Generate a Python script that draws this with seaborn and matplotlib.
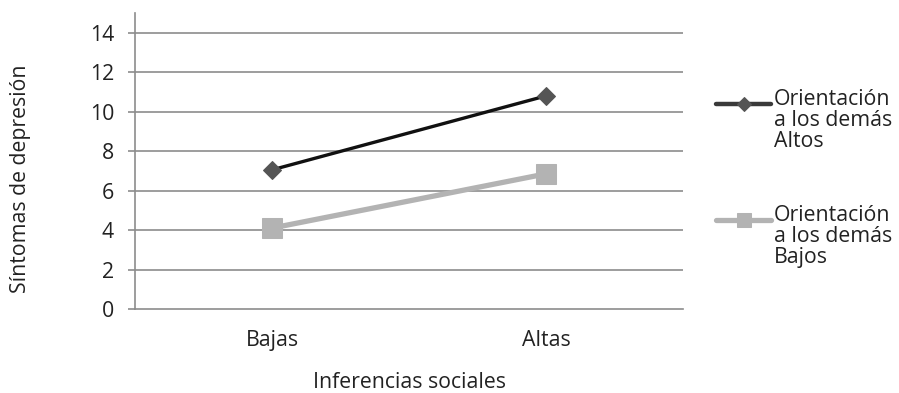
import pandas as pd
import seaborn as sns
import matplotlib.pyplot as plt

categorias = ["Bajas", "Altas"]
altos = [7.05, 10.8]
bajos = [4.1, 6.85]
series = ["Orientación\na los demás\nAltos", "Orientación\na los demás\nBajos"]

df = pd.DataFrame({
    "x": categorias * 2,
    "y": altos + bajos,
    "serie": [series[0]] * 2 + [series[1]] * 2,
})

sns.set_style("white")
plt.rcParams["font.family"] = ["Open Sans", "DejaVu Sans"]
txt = "#222222"
grid = "#8c8c8c"
fs = 15.3

fig = plt.figure(figsize=(8.99, 3.93), dpi=100)
ax = fig.add_axes([0.150, 0.2137, 0.610, 0.7533])

ax.set_ylim(0, 15)
ax.set_yticks(range(0, 15, 2))
for v in range(2, 15, 2):
    ax.axhline(v, color=grid, lw=1.2, zorder=0)

sns.lineplot(data=df, x="x", y="y", hue="serie", style="serie",
             palette=["#111111", "#b3b3b3"], markers=["D", "s"], dashes=False,
             ax=ax, legend=False, zorder=3)
lines = ax.get_lines()[-2:]
lines[0].set_linewidth(2.4)
lines[0].set_markersize(9.5)
lines[0].set_markerfacecolor("#555555")
lines[0].set_markeredgecolor("#555555")
lines[1].set_linewidth(3.8)
lines[1].set_markersize(14)
lines[1].set_markerfacecolor("#b3b3b3")
lines[1].set_markeredgecolor("#b3b3b3")

ax.set_xlim(-0.5, 1.5)
for s in ["top", "right"]:
    ax.spines[s].set_visible(False)
for s in ["left", "bottom"]:
    ax.spines[s].set_color(grid)
    ax.spines[s].set_linewidth(1.2)

ax.tick_params(axis="y", length=5, width=1.2, color=grid, pad=10, labelsize=fs, labelcolor=txt, left=True)
ax.tick_params(axis="x", length=0, pad=15, labelsize=fs, labelcolor=txt)

ax.set_ylabel("Síntomas de depresión", fontsize=fs, color=txt)
ax.yaxis.set_label_coords(-0.19, 0.44)
ax.set_xlabel("Inferencias sociales", fontsize=fs, color=txt)
ax.xaxis.set_label_coords(0.5, -0.212)

leg = ax.legend(lines, series, loc="upper left", bbox_to_anchor=(1.06, 0.777),
                frameon=False, fontsize=fs, handlelength=2.6, handletextpad=0.1,
                handleheight=6.1, labelspacing=1.25, labelcolor=txt,
                borderpad=0, borderaxespad=0)
for t in leg.get_texts():
    t.set_linespacing(1.0)
for h in leg.legend_handles:
    h.set_markersize(h.get_markersize() * 0.7)
leg.legend_handles[0].set_color("#3a3a3a")
leg.legend_handles[0].set_linewidth(3.2)

fig.savefig("out.png", dpi=100)
